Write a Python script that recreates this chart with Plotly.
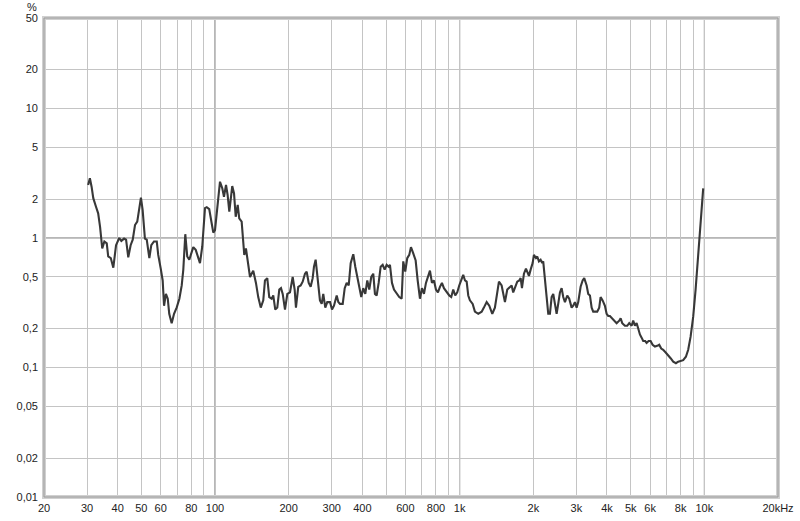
import plotly.graph_objects as go

# distortion curve (Hz, %)
freq = [30.3, 30.8, 31.3, 31.8, 32.6, 33.3, 33.9, 34.6, 35.3, 36.1, 36.6, 37.5, 38.4, 39.4, 40.6, 41.4,
        42.5, 43.3, 44.2, 45.2, 46.1, 47.1, 48.1, 49.0, 49.8, 50.6, 51.7, 52.6, 53.9, 54.9, 56.3, 57.8,
        58.6, 60.0, 61.1, 61.9, 63.0, 64.1, 65.0, 66.5, 68.0, 69.7, 71.5, 73.1, 74.2, 75.6, 77.0, 78.5,
        79.8, 81.5, 83.4, 85.4, 86.8, 88.7, 91.0, 92.5, 94.7, 96.9, 98.4, 100.0, 102.1, 104.8, 107.1,
        108.8, 110.9, 112.6, 114.4, 115.9, 117.6, 119.6, 121.5, 123.8, 125.6, 128.5, 131.7, 133.8,
        136.8, 139.0,
        143.3, 147.0, 150.2, 153.8, 157.5, 160.0, 163.5, 166.6, 170.4, 173.0, 176.3, 179.7, 183.1,
        186.1, 189.1, 193.2, 197.5, 202.5, 207.7, 211.6, 214.2, 218.9, 223.9, 228.2, 233.2, 236.9,
        241.5, 246.0, 250.7, 253.8, 257.8, 262.7, 268.5, 272.9, 277.0, 282.3, 287.6, 295.1, 300.7,
        306.4, 314.3, 319.1, 324.2, 332.6, 338.9, 345.3, 351.9, 358.5, 367.4, 374.4, 381.5, 388.7,
        396.1, 403.6, 411.3, 419.1, 427.0, 435.1, 443.4, 450.5, 457.8, 466.5, 475.4, 484.4, 493.6,
        503.0, 512.5, 518.8, 528.8, 538.9, 552.7, 566.2, 579.2, 588.0, 599.2, 610.5, 622.2, 632.2,
        646.1, 660.8, 673.4, 688.1, 701.2, 714.5, 728.1, 741.9, 756.0, 770.3, 784.9, 799.8, 815.0,
        830.5, 846.2, 862.3, 884.5, 906.4, 923.6, 941.2, 959.1, 977.3, 995.8,
        1019, 1034, 1051, 1068, 1084, 1101, 1130, 1154, 1191, 1230, 1256, 1289, 1321, 1359, 1393,
        1416, 1447, 1484, 1507, 1531, 1565, 1605, 1631, 1655, 1693, 1719, 1752, 1775, 1797, 1831,
        1866, 1889, 1919, 1950, 1987, 2011, 2050, 2075, 2108, 2142, 2175, 2195, 2231, 2267, 2301,
        2338, 2376, 2412, 2451, 2490, 2528, 2569, 2610, 2650, 2693, 2752, 2804, 2868, 2911, 2958,
        3006, 3052, 3121, 3181, 3229, 3303, 3353, 3407, 3462, 3514, 3571, 3649, 3718, 3767, 3839,
        3923, 3986, 4047, 4112, 4190, 4270, 4380, 4488, 4548, 4617, 4735, 4839, 4931, 5044, 5120,
        5203, 5286, 5367, 5453, 5541, 5625, 5732, 5808, 5918, 6031, 6145, 6280, 6417, 6539, 6663,
        6790, 6964, 7117, 7279, 7460, 7652, 7819, 7998, 8196, 8406, 8590, 8787, 9004, 9210, 9438,
        9653, 9893]
thd = [2.57, 2.89, 2.49, 2.03, 1.75, 1.55, 1.22, 0.83, 0.94, 0.91, 0.72, 0.70, 0.59, 0.88, 1.00, 0.95,
       0.99, 0.97, 0.71, 0.88, 0.97, 1.26, 1.34, 1.65, 2.05, 1.65, 0.99, 0.97, 0.70, 0.88, 0.94, 0.94,
       0.74, 0.58, 0.47, 0.30, 0.37, 0.34, 0.26, 0.22, 0.26, 0.29, 0.34, 0.43, 0.57, 1.07, 0.72, 0.68,
       0.74, 0.85, 0.81, 0.72, 0.64, 0.86, 1.70, 1.73, 1.67, 1.30, 1.10, 1.15, 1.80, 2.72, 2.42,
       2.08, 2.57, 2.15, 1.60, 2.03, 2.52, 2.21, 1.46, 1.80, 1.42, 1.34, 0.74, 0.83,
       0.62, 0.50,
       0.56, 0.45, 0.35, 0.29, 0.33, 0.47, 0.49, 0.35, 0.34, 0.36, 0.28, 0.29, 0.40,
       0.41, 0.37, 0.28, 0.37, 0.38, 0.50, 0.40, 0.29, 0.42, 0.43, 0.46, 0.53, 0.55,
       0.45, 0.42, 0.49, 0.60, 0.68, 0.49, 0.33, 0.31, 0.37, 0.29, 0.32, 0.32, 0.28,
       0.30, 0.36, 0.32, 0.31, 0.31, 0.41, 0.45, 0.43, 0.64, 0.75, 0.60, 0.50, 0.41,
       0.35, 0.41, 0.37, 0.47, 0.40, 0.50, 0.53, 0.37, 0.36, 0.45, 0.60, 0.62, 0.57,
       0.62, 0.60, 0.62, 0.45, 0.40, 0.37, 0.35, 0.34, 0.66, 0.55, 0.70, 0.74, 0.85,
       0.76, 0.67, 0.47, 0.34, 0.41, 0.37, 0.45, 0.50, 0.56, 0.45, 0.47, 0.40, 0.38,
       0.42, 0.45, 0.41, 0.38, 0.36, 0.35, 0.40, 0.36, 0.38, 0.43,
       0.49, 0.52, 0.47, 0.46, 0.36, 0.33, 0.31, 0.27, 0.26, 0.27, 0.29, 0.32, 0.30, 0.26, 0.29,
       0.35, 0.46, 0.43, 0.38, 0.32, 0.40, 0.42, 0.43, 0.38, 0.43, 0.46, 0.47, 0.49, 0.41, 0.53,
       0.58, 0.55, 0.51, 0.57, 0.64, 0.74, 0.70, 0.72, 0.66, 0.68, 0.64, 0.66, 0.50, 0.35, 0.26,
       0.26, 0.35, 0.37, 0.31, 0.26, 0.31, 0.38, 0.41, 0.35, 0.32, 0.36, 0.34, 0.29, 0.30, 0.32,
       0.29, 0.32, 0.42, 0.47, 0.49, 0.43, 0.37, 0.36, 0.29, 0.27, 0.27, 0.27, 0.29, 0.35, 0.33,
       0.30, 0.26, 0.25, 0.25, 0.24, 0.23, 0.22, 0.23, 0.24, 0.22, 0.21, 0.21, 0.22, 0.21, 0.23,
       0.21, 0.22, 0.20, 0.18, 0.17, 0.16, 0.16, 0.155, 0.16, 0.16, 0.15, 0.145, 0.147, 0.15, 0.14,
       0.137, 0.13, 0.125, 0.118, 0.111, 0.108, 0.111, 0.113, 0.114, 0.121, 0.137, 0.173, 0.247, 0.40, 0.72,
       1.30, 2.42]

x_ticks = [20, 30, 40, 50, 60, 70, 80, 90, 100, 200, 300, 400, 500, 600, 700, 800, 900,
           1000, 2000, 3000, 4000, 5000, 6000, 7000, 8000, 9000, 10000, 20000]
x_labels = ['20', '30', '40', '50', '60', '', '80', '', '100', '200', '300', '400', '', '600', '',
            '800', '', '1k', '2k', '3k', '4k', '5k', '6k', '', '8k', '', '10k', '20kHz']
y_ticks = [0.01, 0.02, 0.05, 0.1, 0.2, 0.5, 1, 2, 5, 10, 20, 50]
y_labels = ['0,01', '0,02', '0,05', '0,1', '0,2', '0,5', '1', '2', '5', '10', '20', '50']
x_major = [100, 1000, 10000]
y_major = [0.1, 1, 10]

fig = go.Figure()
fig.add_trace(go.Scatter(x=freq, y=thd, mode='lines',
                         line=dict(color='#383838', width=2.1), hoverinfo='skip'))

shapes = []
for v in x_major:
    shapes.append(dict(type='line', xref='x', yref='paper', x0=v, x1=v, y0=0, y1=1,
                       layer='between', line=dict(color='#6e6e6e', width=1)))
for v in y_major:
    shapes.append(dict(type='line', xref='paper', yref='y', x0=0, x1=1, y0=v, y1=v,
                       layer='between', line=dict(color='#6e6e6e', width=1)))
# frame
shapes.append(dict(type='rect', xref='paper', yref='paper', x0=0, x1=1, y0=0, y1=1,
                   layer='above', line=dict(color='#d0d0d0', width=4)))
shapes.append(dict(type='rect', xref='paper', yref='paper', x0=0, x1=1, y0=0, y1=1,
                   layer='above', line=dict(color='#9a9a9a', width=1)))

fig.update_layout(
    width=800, height=521,
    margin=dict(l=44, r=22, t=18, b=24),
    paper_bgcolor='white', plot_bgcolor='white',
    showlegend=False,
    font=dict(family='Liberation Sans, Arial, sans-serif', size=11, color='#222222'),
    shapes=shapes,
    annotations=[dict(text='%', xref='paper', yref='paper', x=-0.016, y=1.024,
                      showarrow=False, xanchor='center', yanchor='middle',
                      font=dict(size=11, color='#222222'))],
)
fig.update_xaxes(type='log', range=[1.30103, 4.30103], tickvals=x_ticks, ticktext=x_labels,
                 showgrid=True, gridcolor='#c4c4c4', gridwidth=1, zeroline=False,
                 showline=False, ticks='', tickangle=0, automargin=False, ticklabelstandoff=3)
fig.update_yaxes(type='log', range=[-2, 1.69897], tickvals=y_ticks, ticktext=y_labels,
                 showgrid=True, gridcolor='#c4c4c4', gridwidth=1, zeroline=False,
                 showline=False, ticks='', automargin=False, ticklabelstandoff=5)

# page body has a default margin; remove it so the figure sits at the window corner
fig.write_html("out.html", config={'displayModeBar': False},
               post_script="document.body.style.margin='0';document.body.style.overflow='hidden';")
